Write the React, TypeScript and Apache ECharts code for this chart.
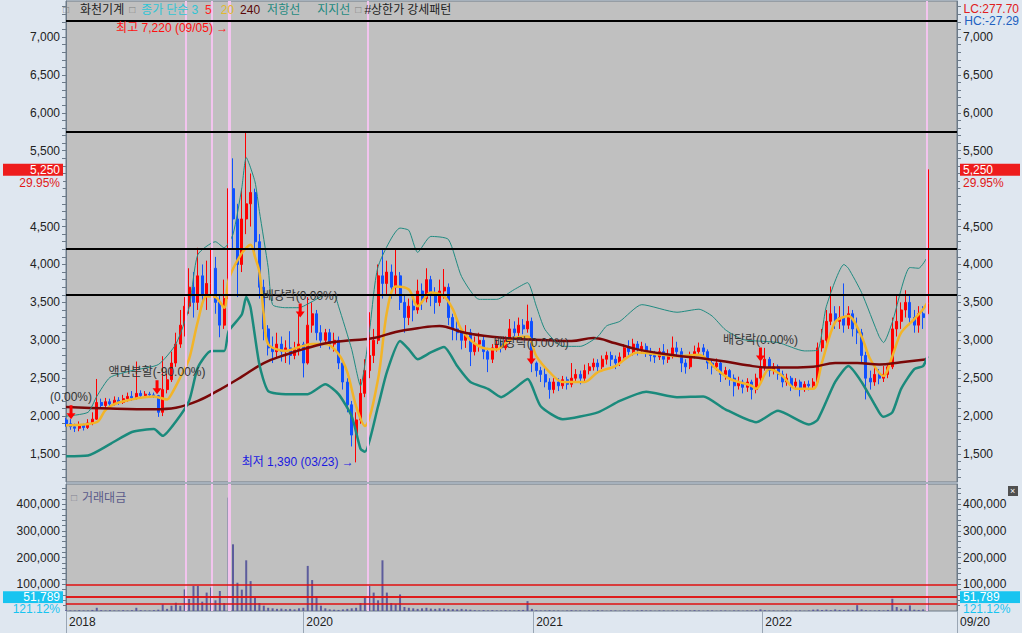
import React, { useEffect, useRef } from 'react';
import * as echarts from 'echarts';

// ---------- time base (weekly bars, Wednesday of each week) ----------
const DAY = 86400000;
const START = Date.UTC(2018, 11, 19);
const AXIS_MAX = Date.UTC(2022, 10, 7);
const ts = (i: number) => START + i * 7 * DAY;
const d = (s: string) => Date.parse(s + 'T00:00:00Z');

// ---------- weekly candles [open, close, low, high] ----------
const weeks2019: number[][] = [
  [1950,1900,1860,1980],[1900,1860,1820,1960],[1860,1840,1790,1900],[1840,1880,1800,1930],[1880,1850,1810,1900],
  [1850,1910,1830,1960],[1910,1960,1880,2050],[1960,2180,1950,2490],[2180,2140,2100,2230],[2140,2190,2110,2240],
  [2190,2160,2120,2230],[2160,2210,2140,2260],[2210,2180,2150,2250],[2180,2230,2160,2280],[2230,2260,2190,2310],
  [2260,2240,2200,2330],[2240,2300,2220,2720],[2300,2270,2230,2340],[2270,2290,2240,2330],[2290,2280,2250,2320],
  [2280,2270,2240,2310],[2270,2050,1990,2280],[2050,2350,2000,2790],[2350,2480,2300,2560],[2480,2700,2450,2850],
  [2700,2950,2650,3100],[2950,3200,2900,3400],[3200,3450,3050,3570],[3450,3700,3350,3950],[3700,3500,3300,3900],
  [3500,3850,3400,4220],[3850,3600,3450,4000],[3600,3750,3400,4050],[3750,3950,3600,4220],[3950,3500,3350,4100],
  [3500,3200,3040,3600],[3200,3550,3150,3800],[3550,5000,3500,7220],[5000,4600,4200,5400],[4600,4000,3570,4800],
  [4000,4600,3900,5000],[4600,4800,4400,5740],[4800,4950,4500,5200],[4950,4300,4150,5000],[4300,3700,3550,4400],
  [3700,3150,3000,3800],[3150,2900,2800,3200],[2900,2850,2700,3050],[2850,2950,2780,3100],[2950,2850,2720,3050],
  [2850,2900,2700,3000],[2900,2800,2680,3120],[2800,2880,2750,2980],[2880,2950,2800,3340],
];
const weeks2020: number[][] = [
  [2950,2700,2510,2980],[2700,3200,2680,3570],[3200,3350,3100,3500],[3350,3100,3000,3400],[3100,3000,2900,3200],
  [3000,3100,2950,3150],[3100,2950,2880,3150],[2950,3000,2850,3100],[3000,2700,2620,3050],[2700,2450,2350,2750],
  [2450,2150,2050,2500],[2150,1750,1600,2200],[1750,1950,1390,2050],[1950,2300,1900,2490],[2300,2600,2250,2750],
  [2600,2800,2500,3370],[2800,3000,2700,3150],[3000,3850,2950,4000],[3850,3750,3550,4200],[3750,3900,3600,4050],
  [3900,3700,3550,4000],[3700,3850,3600,4200],[3850,3500,3400,3900],[3500,3300,3100,3600],[3300,3450,3200,3550],
  [3450,3400,3250,3600],[3400,3650,3350,3800],[3650,3550,3400,3750],[3550,3800,3500,3950],[3800,3600,3450,3850],
  [3600,3500,3350,3700],[3500,3650,3450,3800],[3650,3700,3550,3940],[3700,3300,3200,3750],[3300,3150,3000,3350],
  [3150,3100,3000,3250],[3100,3000,2880,3150],[3000,3100,2900,3200],[3100,2850,2660,3150],[2850,2950,2800,3050],
  [2950,3000,2850,3100],[3000,2850,2750,3050],[2850,2750,2580,2900],[2750,2900,2700,2950],[2900,2950,2850,3010],
  [2950,2900,2840,3000],[2900,3000,2870,3050],[3000,3150,2950,3280],[3150,3100,3050,3250],[3100,3200,3050,3300],
  [3200,3150,3080,3280],[3150,3250,3100,3470],[3250,2700,2580,3300],
];
const weeks2021: number[][] = [
  [2700,2600,2520,2720],[2600,2550,2450,2650],[2550,2450,2380,2650],[2450,2350,2230,2500],[2350,2450,2300,2500],
  [2450,2400,2330,2500],[2400,2480,2360,2530],[2480,2420,2350,2520],[2420,2500,2380,2700],[2500,2550,2450,2620],
  [2550,2500,2420,2600],[2500,2600,2450,2680],[2600,2650,2550,2700],[2650,2700,2600,2760],[2700,2650,2580,2750],
  [2650,2750,2620,2800],[2750,2800,2680,2850],[2800,2750,2660,2850],[2750,2700,2620,2800],[2700,2780,2660,2840],
  [2780,2900,2760,2950],[2900,2850,2800,3000],[2850,2950,2800,3020],[2950,2880,2800,2990],[2880,2920,2820,2980],
  [2920,2850,2780,2960],[2850,2800,2720,2900],[2800,2780,2700,2860],[2780,2850,2740,2900],[2850,2750,2680,2950],
  [2750,2800,2700,2880],[2800,2900,2760,3050],[2900,2850,2780,2980],[2850,2700,2580,2900],[2700,2650,2560,2750],
  [2650,2800,2620,2850],[2800,2850,2760,2930],[2850,2900,2800,2970],[2900,2850,2780,2950],[2850,2700,2620,2880],
  [2700,2650,2550,2750],[2650,2700,2600,2760],[2700,2550,2450,2720],[2550,2600,2480,2650],[2600,2500,2400,2620],
  [2500,2400,2260,2550],[2400,2450,2350,2520],[2450,2380,2300,2480],[2380,2450,2320,2500],[2450,2350,2220,2480],
  [2350,2500,2300,2560],[2500,2650,2450,2880],
];
const weeks2022: number[][] = [
  [2650,2750,2600,2900],[2750,2600,2520,2780],[2600,2650,2550,2700],[2650,2550,2480,2680],[2550,2450,2380,2600],
  [2450,2500,2400,2560],[2500,2400,2330,2530],[2400,2450,2350,2500],[2450,2350,2260,2480],[2350,2420,2320,2460],
  [2420,2400,2340,2470],[2400,2450,2360,2500],[2450,2900,2430,2970],[2900,3000,2850,3150],[3000,3250,2950,3400],
  [3250,3350,3200,3710],[3350,3250,3150,3450],[3250,3300,3150,3450],[3300,3200,3100,3750],[3200,3350,3150,3450],
  [3350,3150,3050,3400],[3150,3100,2950,3300],[3100,2800,2700,3150],[2800,2500,2220,2850],[2500,2450,2350,2600],
  [2450,2550,2400,2650],[2550,2500,2420,2620],[2500,2550,2450,2660],[2550,2650,2500,2700],[2650,3150,2620,3300],
  [3150,3250,3050,3610],[3250,3400,3150,3500],[3400,3500,3300,3660],[3500,3300,3200,3600],[3300,3200,3100,3400],
  [3200,3350,3100,3450],[3350,3300,3150,3450],[3350,5250,3300,5250],
];

// ---------- weekly trading value (거래대금) ----------
const vol2019 = [
  3000,2000,2000,3000,2000,2000,4000,12000,3000,2000,
  3000,2000,2000,3000,2000,3000,12000,3000,2000,2000,
  3000,5000,25000,8000,20000,31000,20000,81000,45000,94000,
  94000,35000,69000,88000,40000,75000,30000,425000,250000,106000,
  80000,190000,112000,50000,30000,20000,12000,10000,8000,9000,
  7000,8000,6000,10000,
];
const vol2020 = [
  12000,169000,116000,56000,20000,10000,6000,5000,4000,6000,
  8000,10000,12000,30000,50000,94000,69000,40000,190000,69000,
  30000,25000,62000,15000,12000,10000,8000,10000,12000,9000,
  8000,10000,9000,8000,7000,6000,8000,6000,5000,3000,
  2000,3000,2000,3000,2000,2000,3000,2000,2000,3000,
  4000,37000,8000,
];
const vol2021 = [
  3000,2000,2000,3000,2000,2000,1000,2000,3000,2000,
  2000,1000,2000,2000,3000,2000,1000,2000,2000,1000,
  2000,2000,1000,2000,3000,2000,2000,1000,2000,2000,
  1000,2000,2000,1000,2000,2000,3000,2000,1000,2000,
  2000,1000,2000,2000,1000,2000,2000,1000,2000,2000,
  3000,6000,
];
const vol2022 = [
  3000,2000,2000,1000,2000,2000,1000,2000,2000,1000,
  2000,5000,6000,4000,5000,3000,6000,4000,3000,5000,
  4000,22000,6000,3000,2000,2000,3000,2000,4000,46000,
  15000,8000,6000,21000,5000,4000,6000,51789,
];

// ---------- indicators [week index, value] ----------
const ma20: number[][] = [
  [0,1880],[7,1920],[9,2080],[12,2180],[20,2260],[23,2220],[24,2290],[26,2510],[28,2750],[30,3250],
  [32,3580],[34,3570],[36,3430],[37,3800],[40,4150],[42,4260],[43,4100],[44,3900],[45,3340],[46,2950],
  [50,2860],[53,2910],[56,2950],[59,2950],[62,2820],[64,2580],[66,2130],[68,1870],[71,2490],[73,3370],
  [75,3710],[78,3670],[80,3450],[83,3630],[86,3580],[88,3410],[90,3140],[94,2920],[98,2880],[101,3010],
  [105,3050],[107,2790],[110,2580],[113,2450],[118,2450],[121,2580],[125,2660],[130,2840],[134,2820],[139,2790],
  [144,2810],[148,2620],[151,2490],[156,2400],[157,2360],[160,2620],[163,2530],[166,2360],[170,2360],[172,2710],
  [175,3240],[178,3320],[181,3050],[183,2750],[186,2530],[188,2790],[190,3100],[193,3280],[195,3410],[196,3500],
];
const ma240: number[][] = [
  [0,2120],[10,2100],[20,2090],[25,2110],[30,2200],[35,2350],[40,2520],[45,2700],[50,2810],[55,2900],
  [60,2970],[65,3000],[70,3030],[75,3110],[80,3160],[85,3190],[90,3110],[95,3060],[100,3030],[105,3010],
  [110,3000],[115,2990],[120,3030],[125,2960],[130,2880],[135,2830],[140,2790],[145,2760],[150,2720],[155,2670],
  [160,2640],[165,2640],[170,2650],[175,2700],[180,2700],[185,2680],[190,2710],[196,2750],
];
const upperBand: number[][] = [
  [0,2000],[5,2050],[7,2260],[10,2510],[15,2600],[21,2680],[25,2950],[28,3430],[30,4130],[34,4300],
  [36,4220],[38,4400],[40,5010],[41,5410],[43,5090],[44,4700],[46,3960],[47,3470],[50,3430],[53,3430],
  [56,3510],[59,3600],[61,3600],[62,3450],[65,2880],[67,2400],[69,3100],[71,3970],[76,4480],[78,4450],
  [80,4160],[83,4370],[87,4330],[90,3840],[94,3540],[98,3540],[102,3670],[105,3760],[107,3450],[109,3140],
  [113,2920],[117,2920],[121,3050],[123,3190],[126,3250],[131,3470],[139,3370],[144,3410],[147,3320],[150,3140],
  [154,3010],[162,2970],[168,2860],[171,2870],[173,3450],[177,4000],[178,3950],[181,3630],[185,3050],[186,2970],
  [188,3240],[192,3960],[194,3950],[196,4100],
];
const lowerBand: number[][] = [
  [0,1470],[5,1480],[10,1630],[15,1790],[20,1830],[22,1740],[25,1930],[28,2200],[30,2640],[33,2860],
  [36,2860],[37,3120],[40,3340],[41,3570],[42,3430],[44,2680],[46,2330],[50,2290],[55,2290],[59,2420],
  [62,2290],[65,2000],[67,1570],[68,1530],[71,2130],[73,2580],[76,2990],[78,2880],[80,2750],[83,2840],
  [86,2910],[89,2660],[92,2450],[96,2360],[99,2250],[102,2360],[105,2490],[108,2130],[113,1960],[121,2050],
  [126,2200],[132,2320],[139,2250],[145,2260],[150,2090],[157,1920],[162,2070],[169,1890],[171,1950],[175,2450],
  [178,2660],[181,2450],[185,2050],[186,1990],[188,2050],[190,2360],[193,2620],[195,2660],[196,2790],
];

// ---------- levels, events, labels ----------
const levelLines = [7220, 5750, 4210, 3600];
const limitUpDates = ['2019-06-27', '2019-08-08', '2019-09-04', '2019-09-05', '2020-04-13', '2022-09-20'];
const exEvents = [
  { date: '2018-12-27', value: 1960, text: '(0.00%)' },
  { date: '2019-05-13', value: 2290, text: '액면분할(-90.00%)' },
  { date: '2019-12-27', value: 3300, text: '배당락(0.00%)' },
  { date: '2020-12-29', value: 2680, text: '배당락(0.00%)' },
  { date: '2021-12-29', value: 2720, text: '배당락(0.00%)' },
];
const peak = { date: '2019-09-05', value: 7220 };
const trough = { date: '2020-03-23', value: 1390 };
const lastPrice = 5250;
const lastChange = '29.95%';
const lastVolume = 51789;
const lastVolumeRatio = '121.12%';
const volumeLines = [100000, 28000];
const lastDateLabel = '09/20';
const priceTicks = [1500, 2000, 2500, 3000, 3500, 4000, 4500, 5000, 5500, 6000, 6500, 7000];
const volumeTicks = [100000, 200000, 300000, 400000];
const yearTicks = ['2020-01-01', '2021-01-01', '2022-01-01'];

const fmt = (v: number) => Math.round(v).toLocaleString('en-US');
const mmdd = (s: string) => s.slice(5).replace('-', '/');

const FONT = "'Liberation Sans', 'Noto Sans CJK KR', sans-serif";
const BG = '#dfe7f0';
const PLOT = '#c0c0c0';
const AXIS = '#6c7a88';
const ARROW = 'path://M3,0 L6,0 L6,8 L9,8 L4.5,14 L0,8 L3,8 Z';

export default function App() {
  const ref = useRef<HTMLDivElement>(null);

  useEffect(() => {
    const chart = echarts.init(ref.current!, null, { renderer: 'svg' });

    const weekly = [...weeks2019, ...weeks2020, ...weeks2021, ...weeks2022];
    const candleData = weekly.map((c, i) => [ts(i), c[0], c[1], c[2], c[3]]);
    const volumes = [...vol2019, ...vol2020, ...vol2021, ...vol2022];
    const volData = volumes.map((v, i) => [ts(i), v]);
    const toLine = (arr: number[][]) => arr.map(([i, v]) => [ts(i), v]);

    const priceMinor: number[] = [];
    for (let v = 1200; v <= 7400; v += 100) priceMinor.push(v);
    const volMinor: number[] = [];
    for (let v = 20000; v <= 460000; v += 20000) volMinor.push(v);
    // the label just under the current-price box is covered by it, as in the reference
    const priceLabels = priceTicks.filter((v) => !(v < lastPrice && lastPrice - v < 400));

    const xTickValues = [START, ...yearTicks.map(d), AXIS_MAX];

    const yAx = (grid: number, pos: string, min: number, max: number, labels: number[], minor: number[]) => ({
      type: 'value', gridIndex: grid, position: pos, min, max,
      axisLine: { show: true, lineStyle: { color: AXIS } },
      axisTick: { show: true, customValues: minor, length: 4, lineStyle: { color: AXIS } },
      axisLabel: { customValues: labels, formatter: (v: number) => fmt(v), color: '#222', fontSize: 12, margin: 6, fontFamily: FONT },
      splitLine: { show: false },
    });

    const boxLabel = (position: string, main: string, sub: string, boxColor: string, subColor: string, lh: number) => ({
      show: true, position, distance: 3,
      formatter: `{s| }\n{a|${main}}\n{b|${sub}}`,
      rich: {
        s: { lineHeight: lh, fontSize: 1, fontFamily: FONT },
        a: { backgroundColor: boxColor, color: '#fff', fontSize: 12, fontFamily: FONT, lineHeight: lh + 2, width: 54, align: position === 'start' ? 'right' : 'left', padding: [0, 3, 0, 3] },
        b: { backgroundColor: BG, color: subColor, fontSize: 12, fontFamily: FONT, lineHeight: lh, width: 54, align: position === 'start' ? 'right' : 'left', padding: [0, 3, 0, 3] },
      },
    });
    const priceBox = (position: string) => ({
      yAxis: lastPrice,
      lineStyle: { color: 'rgba(0,0,0,0)', width: 0 },
      label: boxLabel(position, fmt(lastPrice), lastChange, '#ee1c1c', '#e01818', 12),
    });
    const volBox = (position: string) => ({
      yAxis: lastVolume,
      lineStyle: { color: '#e01010', width: 1.5, type: 'solid' },
      label: boxLabel(position, fmt(lastVolume), lastVolumeRatio, '#18c4f0', '#18c4f0', 11),
    });

    const xBase = { type: 'value', min: START, max: AXIS_MAX, scale: true, splitLine: { show: false } };
    const tok = (color: string, left: number, size = 12) => ({ color, fontSize: size, lineHeight: 13, fontFamily: FONT, padding: [0, 0, 0, left] });

    const option: any = {
      animation: false,
      backgroundColor: BG,
      textStyle: { fontFamily: FONT },
      title: [
        {
          left: 63, top: 3, padding: 0,
          text: '{q0|□}{n1|화천기계}{q|□}{c1|종가}{c2|단순}{c3|3}{r|5}{y|20}{m|240}{t1|저항선}{t2|지지선}{q|□}{n2|#상한가}{n3|강세패턴}',
          textStyle: {
            fontSize: 12, fontWeight: 'normal', color: '#222', lineHeight: 13,
            rich: {
              q0: tok('#808080', 0, 10),
              n1: tok('#222', 11),
              q: tok('#808080', 5, 10),
              c1: tok('#30c4d4', 6),
              c2: tok('#30c4d4', 3),
              c3: tok('#30c4d4', 3),
              r: tok('#ff2020', 7),
              y: tok('#e0b830', 9),
              m: tok('#5a0808', 6),
              t1: tok('#1f8a80', 7),
              t2: tok('#1f8a80', 17),
              n2: tok('#222', 3),
              n3: tok('#222', 3),
            },
          },
        },
        {
          left: 66, top: 486,
          text: '{q|□}{v|거래대금}',
          textStyle: { fontWeight: 'normal', rich: { q: tok('#808090', 0, 10), v: tok('#5a5a8a', 5) } },
        },
      ],
      grid: [
        { left: 66, right: 65, top: 1, height: 481, show: true, backgroundColor: PLOT, borderColor: AXIS, borderWidth: 1 },
        { left: 66, right: 65, top: 484, height: 127, show: true, backgroundColor: PLOT, borderColor: AXIS, borderWidth: 1 },
      ],
      xAxis: [
        { ...xBase, gridIndex: 0, axisLine: { show: false }, axisTick: { show: false }, axisLabel: { show: false } },
        {
          ...xBase, gridIndex: 1,
          axisLine: { show: false },
          axisTick: { show: true, customValues: xTickValues, length: 22, lineStyle: { color: '#9aa6b4' } },
          axisLabel: {
            customValues: xTickValues,
            formatter: (v: number) => (v === AXIS_MAX ? lastDateLabel : String(new Date(v).getUTCFullYear())),
            align: 'left', margin: 5, padding: [0, 0, 0, 3], color: '#222', fontSize: 12, fontFamily: FONT,
            showMinLabel: true, showMaxLabel: true, hideOverlap: false,
          },
        },
      ],
      yAxis: [
        yAx(0, 'left', 1131, 7475, priceLabels, priceMinor),
        yAx(0, 'right', 1131, 7475, priceLabels, priceMinor),
        yAx(1, 'left', 0, 476000, volumeTicks, volMinor),
        yAx(1, 'right', 0, 476000, volumeTicks, volMinor),
      ],
      graphic: [
        { type: 'text', right: 3, top: 3, style: { text: 'LC:277.70', fill: '#e02020', font: `12px ${FONT}` } },
        { type: 'text', right: 3, top: 15, style: { text: 'HC:-27.29', fill: '#2060c0', font: `12px ${FONT}` } },
        {
          type: 'group', right: 4, top: 486,
          children: [
            { type: 'rect', shape: { x: 0, y: 0, width: 10, height: 10 }, style: { fill: '#505050' } },
            { type: 'text', x: 2, y: 0, style: { text: '×', fill: '#fff', font: `9px ${FONT}` } },
          ],
        },
      ],
      series: [
        {
          name: 'limitUp', type: 'line', xAxisIndex: 0, yAxisIndex: 0, data: [], z: 1,
          markLine: {
            symbol: ['none', 'none'], silent: true,
            data: limitUpDates.map((s) => ({ xAxis: d(s), lineStyle: { color: '#f2c4ee', width: 2, type: 'solid' }, label: { show: false } })),
          },
        },
        {
          name: 'limitUpVol', type: 'line', xAxisIndex: 1, yAxisIndex: 2, data: [], z: 1,
          markLine: {
            symbol: ['none', 'none'], silent: true,
            data: limitUpDates.map((s) => ({ xAxis: d(s), lineStyle: { color: '#f2c4ee', width: 2, type: 'solid' }, label: { show: false } })),
          },
        },
        {
          name: '화천기계', type: 'candlestick', xAxisIndex: 0, yAxisIndex: 0, z: 3,
          data: candleData, encode: { x: 0, y: [1, 2, 3, 4] }, barWidth: 2.5,
          itemStyle: { color: '#ff0000', color0: '#1050ff', borderColor: '#ff0000', borderColor0: '#1050ff', borderWidth: 1 },
          markLine: {
            symbol: ['none', 'none'], silent: true,
            data: [
              ...levelLines.map((v) => ({ yAxis: v, lineStyle: { color: '#000', width: 2, type: 'solid' }, label: { show: false } })),
              priceBox('start'),
              priceBox('end'),
            ],
          },
          markPoint: {
            silent: true,
            data: [
              ...exEvents.map((e) => ({
                coord: [d(e.date), e.value], symbol: ARROW, symbolSize: [9, 14], symbolOffset: [0, '-50%'],
                itemStyle: { color: '#ff0000' },
                label: { show: true, position: 'top', distance: 2, formatter: e.text, color: '#333', fontSize: 12 },
              })),
              {
                coord: [d(peak.date), peak.value], symbol: 'circle', symbolSize: 0,
                label: { show: true, position: 'left', distance: 1, offset: [0, 8], formatter: `최고 ${fmt(peak.value)} (${mmdd(peak.date)}) →`, color: '#ff1010', fontSize: 12, lineHeight: 13 },
              },
              {
                coord: [d(trough.date), trough.value], symbol: 'circle', symbolSize: 0,
                label: { show: true, position: 'left', distance: 1, formatter: `최저 ${fmt(trough.value)} (${mmdd(trough.date)}) →`, color: '#1a1ae0', fontSize: 12 },
              },
            ],
          },
        },
        { name: '20', type: 'line', xAxisIndex: 0, yAxisIndex: 0, z: 4, data: toLine(ma20), showSymbol: false, smooth: 0.3, lineStyle: { color: '#f2b428', width: 2.5 } },
        { name: '240', type: 'line', xAxisIndex: 0, yAxisIndex: 0, z: 4, data: toLine(ma240), showSymbol: false, smooth: 0.4, lineStyle: { color: '#7a0808', width: 2.5 } },
        { name: '저항선', type: 'line', xAxisIndex: 0, yAxisIndex: 0, z: 4, data: toLine(upperBand), showSymbol: false, smooth: 0.2, lineStyle: { color: '#1f8a80', width: 1 } },
        { name: '지지선', type: 'line', xAxisIndex: 0, yAxisIndex: 0, z: 4, data: toLine(lowerBand), showSymbol: false, smooth: 0.2, lineStyle: { color: '#1a8a7c', width: 2.5 } },
        {
          name: '거래대금', type: 'bar', xAxisIndex: 1, yAxisIndex: 2, z: 3, data: volData, barWidth: 2,
          itemStyle: { color: '#5c5c9c' },
          markLine: {
            symbol: ['none', 'none'], silent: true,
            data: [
              ...volumeLines.map((v) => ({ yAxis: v, lineStyle: { color: '#e01010', width: 1.5, type: 'solid' }, label: { show: false } })),
              volBox('start'),
              volBox('end'),
            ],
          },
        },
      ],
    };

    chart.setOption(option);
    return () => chart.dispose();
  }, []);

  return <div ref={ref} style={{ position: 'fixed', left: 0, top: 0, width: 1022, height: 633 }} />;
}
